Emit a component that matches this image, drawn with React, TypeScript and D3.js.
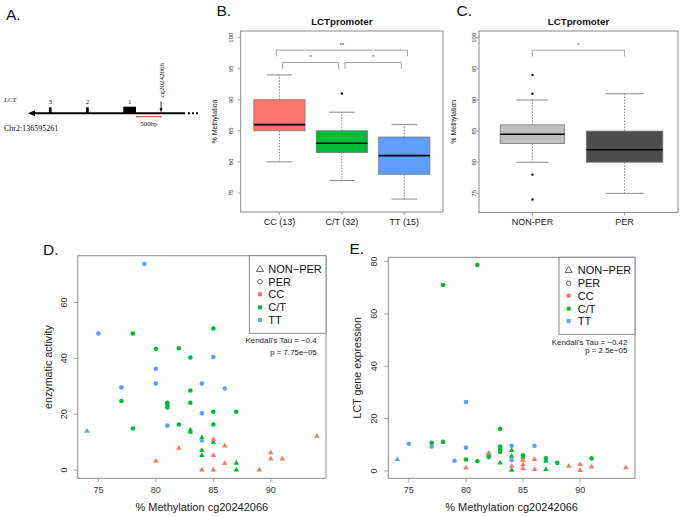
import React from 'react';
import * as d3 from 'd3';

const W = 685, H = 516;
const FONT = "'Liberation Sans', Arial, Helvetica, sans-serif";
const SERIF = "'Liberation Serif', 'Times New Roman', serif";
const RED = '#F8766D', GREEN = '#00BA38', BLUE = '#619CFF';
const BOXLINE = '#8a8a8a';

// ---------- Panel A (gene diagram, bp from Chr2:136595261) ----------
const geneLengthBp = 3230;
const exonLabels = ['3', '2', '1'];
const exonStartBp = [430, 1195, 1961];
const exonEndBp = [485, 1250, 2222];
const cpgBp = 2737;
const scaleBarBp = 500;

// ---------- Panel B ----------
const bCategories = ['CC (13)', 'C/T (32)', 'TT (15)'];
const bColors = [RED, GREEN, BLUE];
const bLow = [80, 77, 74];
const bQ1 = [85, 81.5, 78];
const bMedian = [86, 83, 81];
const bQ3 = [90, 85, 84];
const bHigh = [94, 88, 86];
const bOutliers = [[], [91], []];
const bBoxWidths = [0.82, 0.82, 0.82];
const bBrackets = [
  { from: 0.95, to: 3.05, level: 98, label: '**' },
  { from: 1.05, to: 1.95, level: 96, label: '*' },
  { from: 2.05, to: 2.95, level: 96, label: '*' },
];

// ---------- Panel C ----------
const cCategories = ['NON-PER', 'PER'];
const cColors = ['#BEBEBE', '#4D4D4D'];
const cLow = [80, 75];
const cQ1 = [83, 80];
const cMedian = [84.5, 82];
const cQ3 = [86, 85];
const cHigh = [90, 91];
const cOutliers = [[94, 91, 78, 74], []];
const cBoxWidths = [0.7, 0.83];
const cBrackets = [{ from: 1, to: 2, level: 98, label: '*' }];

const methylTicks = [75, 80, 85, 90, 95, 100];

// ---------- Panel D (enzymatic activity) ----------
const dTTPer = [[79, 73.8], [75, 48.9], [80, 36.3], [80, 31.0], [77, 29.6], [84, 31.0], [85, 40.5], [86, 29.2], [84, 20.3], [81, 15.9]];
const dTTNonPer = [[74, 14.1], [84, 10.7]];
const dCTPer = [[78, 48.9], [85, 50.7], [80, 43.4], [82, 43.6], [83, 40.3], [83, 28.5], [77, 24.7], [81, 24.1], [81, 23.3], [81, 22.4], [83, 24.1], [85, 20.9], [87, 20.9], [82, 16.3], [85, 16.3], [78, 14.9]];
const dCTNonPer = [[83, 14.5], [83, 13.7], [84, 11.7], [85, 10.1], [84, 7.2], [84, 5.4], [87, 2.6], [87, 0.2]];
const dCCNonPer = [[94, 12.3], [85, 11.1], [86, 8.8], [82, 8.0], [85, 5.4], [90, 6.4], [90, 4.1], [91, 4.1], [80, 3.3], [86, 2.5], [84, 0.2], [85, 0.2], [89, 0.2]];
const dYTicks = [0, 20, 40, 60];
const dStats = ["Kendall's Tau = \u22120.4", 'p = 7.75e\u221205'];

// ---------- Panel E (LCT gene expression) ----------
const eTTPer = [[75, 10.4], [77, 9.3], [80, 26.3], [80, 8.9], [79, 3.9], [84, 9.6], [84, 4.2], [86, 9.6]];
const eTTNonPer = [[74, 4.6]];
const eCTPer = [[81, 78.7], [78, 71.0], [83, 16.0], [77, 10.8], [78, 11.1], [83, 9.3], [83, 8.3], [83, 7.3], [82, 6.1], [82, 5.3], [80, 4.4], [81, 3.7], [85, 6.0], [85, 5.1], [87, 4.8], [88, 3.1], [91, 4.8]];
const eCTNonPer = [[83, 3.2], [84, 8.0], [84, 5.8], [84, 0.5], [87, 3.9], [87, 0.7]];
const eCCNonPer = [[80, 1.3], [82, 7.0], [84, 2.0], [85, 4.3], [85, 2.6], [85, 1.0], [86, 4.6], [86, 0.7], [89, 2.0], [90, 2.7], [90, 0.4], [91, 1.7], [94, 1.4]];
const eYTicks = [0, 20, 40, 60, 80];
const eStats = ["Kendall's Tau = \u22120.42", 'p = 2.5e\u221205'];

const xTicksMeth = [75, 80, 85, 90];
const legendLabels = ['NON\u2212PER', 'PER', 'CC', 'C/T', 'TT'];
const legendColors = ['', '', RED, GREEN, BLUE];

const triPath = d3.symbol().type(d3.symbolTriangle).size(13)() as string;
const triOpen = d3.symbol().type(d3.symbolTriangle).size(22)() as string;

function PanelA() {
  const x = d3.scaleLinear().domain([0, geneLengthBp]).range([28, 185]);
  const yl = 113.3;
  return (
    <g fontFamily={SERIF}>
      <text x={6} y={20} fontSize={15.5} fontFamily={FONT} fill="#111">A.</text>
      <text x={4} y={101.5} fontSize={7} fontStyle="italic" fill="#111">LCT</text>
      <line x1={x(0) + 5} x2={x(geneLengthBp)} y1={yl} y2={yl} stroke="#000" strokeWidth={2} />
      <path d={`M${x(0)},${yl} l7,-3 l0,6 z`} fill="#000" />
      <line x1={x(geneLengthBp) + 3} x2={x(geneLengthBp) + 13} y1={yl} y2={yl} stroke="#000" strokeWidth={2} strokeDasharray="2,2" />
      {exonLabels.map((lab, i) => (
        <g key={lab}>
          <rect x={x(exonStartBp[i])} width={x(exonEndBp[i]) - x(exonStartBp[i])} y={i === 2 ? 106.7 : 107.3} height={i === 2 ? 6.6 : 6} fill="#000" />
          <text x={(x(exonStartBp[i]) + x(exonEndBp[i])) / 2} y={104} fontSize={7} textAnchor="middle" fill="#111">{lab}</text>
        </g>
      ))}
      <line x1={x(cpgBp)} x2={x(cpgBp)} y1={101.5} y2={109} stroke="#000" strokeWidth={0.8} />
      <path d={`M${x(cpgBp)},${112.2} l-1.6,-4 l3.2,0 z`} fill="#000" />
      <text transform={`translate(${x(cpgBp) + 2.5},${97.5}) rotate(-90)`} fontSize={7} fill="#111">cg20242066</text>
      <line x1={x(cpgBp - scaleBarBp)} x2={x(cpgBp)} y1={116.7} y2={116.7} stroke="#d12a2a" strokeWidth={0.9} />
      <line x1={x(cpgBp - scaleBarBp)} x2={x(cpgBp - scaleBarBp)} y1={115.7} y2={117.7} stroke="#d12a2a" strokeWidth={0.8} />
      <line x1={x(cpgBp)} x2={x(cpgBp)} y1={115.7} y2={117.7} stroke="#d12a2a" strokeWidth={0.8} />
      <text x={x(cpgBp - scaleBarBp / 2)} y={125.5} fontSize={6.7} textAnchor="middle" fill="#111">500bp</text>
      <text x={4} y={130.5} fontSize={8} fill="#111">Chr2:136595261</text>
    </g>
  );
}

type BoxProps = {
  letter: string; letterX: number; left: number; right: number; top: number; bottom: number;
  categories: string[]; colors: string[]; low: number[]; q1: number[]; med: number[]; q3: number[]; high: number[];
  outliers: number[][]; widths: number[]; brackets: { from: number; to: number; level: number; label: string }[];
  yLabelX: number; tickLabelX: number;
};

function BoxPanel(p: BoxProps) {
  const n = p.categories.length;
  const ext = n * 0.04;
  const x = d3.scaleLinear().domain([0.5 - ext, n + 0.5 + ext]).range([p.left, p.right]);
  const y = d3.scaleLinear().domain([71.92, 101.08]).range([p.bottom, p.top]);
  const unit = x(1) - x(0);
  const midX = (p.left + p.right) / 2;
  return (
    <g fontFamily={FONT}>
      <text x={p.letterX} y={15.7} fontSize={15.5} fill="#111">{p.letter}</text>
      <text x={midX} y={24.5} fontSize={9.7} fontWeight="bold" textAnchor="middle" fill="#111">LCTpromoter</text>
      <rect x={p.left} y={p.top} width={p.right - p.left} height={p.bottom - p.top} fill="none" stroke={BOXLINE} strokeWidth={1} />
      {methylTicks.map(t => (
        <g key={t}>
          <line x1={p.left - 3} x2={p.left} y1={y(t)} y2={y(t)} stroke={BOXLINE} strokeWidth={0.8} />
          <text transform={`translate(${p.tickLabelX},${y(t)}) rotate(-90)`} fontSize={6} textAnchor="middle" fill="#333">{t}</text>
        </g>
      ))}
      <text transform={`translate(${p.yLabelX},${(p.top + p.bottom) / 2}) rotate(-90)`} fontSize={7} textAnchor="middle" fill="#222">% Methylation</text>
      {p.categories.map((c, i) => {
        const cx = x(i + 1);
        const hw = (p.widths[i] * unit) / 2;
        return (
          <g key={c}>
            <line x1={cx} x2={cx} y1={p.bottom} y2={p.bottom + 3} stroke={BOXLINE} strokeWidth={0.8} />
            <text x={cx} y={225} fontSize={9} textAnchor="middle" fill="#222">{c}</text>
            <line x1={cx} x2={cx} y1={y(p.q3[i])} y2={y(p.high[i])} stroke="#666" strokeWidth={0.8} strokeDasharray="1.5,1.5" />
            <line x1={cx} x2={cx} y1={y(p.q1[i])} y2={y(p.low[i])} stroke="#666" strokeWidth={0.8} strokeDasharray="1.5,1.5" />
            <line x1={cx - hw / 2} x2={cx + hw / 2} y1={y(p.high[i])} y2={y(p.high[i])} stroke="#888" strokeWidth={1} />
            <line x1={cx - hw / 2} x2={cx + hw / 2} y1={y(p.low[i])} y2={y(p.low[i])} stroke="#888" strokeWidth={1} />
            <rect x={cx - hw} width={2 * hw} y={y(p.q3[i])} height={y(p.q1[i]) - y(p.q3[i])} fill={p.colors[i]} stroke="#777" strokeWidth={0.8} />
            <line x1={cx - hw} x2={cx + hw} y1={y(p.med[i])} y2={y(p.med[i])} stroke="#000" strokeWidth={1.6} />
            {p.outliers[i].map((o, j) => (
              <circle key={j} cx={cx} cy={y(o)} r={1.2} fill="#111" />
            ))}
          </g>
        );
      })}
      {p.brackets.map((b, i) => (
        <g key={i}>
          <path d={`M${x(b.from)},${y(b.level - 1)} V${y(b.level)} H${x(b.to)} V${y(b.level - 1)}`} fill="none" stroke="#999" strokeWidth={0.9} />
          <text x={(x(b.from) + x(b.to)) / 2} y={y(b.level + 1.1) + 3.5} fontSize={6} textAnchor="middle" fill="#333">{b.label}</text>
        </g>
      ))}
    </g>
  );
}

type ScatterProps = {
  letter: string; letterX: number; letterY: number; left: number; right: number; top: number; bottom: number;
  yDomain: [number, number]; yTicks: number[]; yLabel: string; yLabelX: number; tickLabelX: number;
  ccTri: number[][]; ctTri: number[][]; ttTri: number[][]; ctCirc: number[][]; ttCirc: number[][];
  legend: { left: number; bottom: number; symX: number; textX: number; rows: number[] };
  stats: string[]; statsX: number; statsY: number[];
};

function ScatterPanel(p: ScatterProps) {
  const x = d3.scaleLinear().domain([73.2, 94.8]).range([p.left, p.right]);
  const y = d3.scaleLinear().domain(p.yDomain).range([p.bottom, p.top]);
  const tri = (pts: number[][], col: string, k: string) =>
    pts.map((d, i) => <path key={k + i} d={triPath} transform={`translate(${x(d[0])},${y(d[1]) + 0.4})`} fill={col} />);
  const circ = (pts: number[][], col: string, k: string) =>
    pts.map((d, i) => <circle key={k + i} cx={x(d[0])} cy={y(d[1])} r={2.3} fill={col} />);
  return (
    <g fontFamily={FONT}>
      <text x={p.letterX} y={p.letterY} fontSize={15.5} fill="#111">{p.letter}</text>
      <rect x={p.left} y={p.top} width={p.right - p.left} height={p.bottom - p.top} fill="none" stroke={BOXLINE} strokeWidth={1} />
      {xTicksMeth.map(t => (
        <g key={t}>
          <line x1={x(t)} x2={x(t)} y1={p.bottom} y2={p.bottom + 4} stroke={BOXLINE} strokeWidth={0.8} />
          <text x={x(t)} y={p.bottom + 15} fontSize={9} textAnchor="middle" fill="#333">{t}</text>
        </g>
      ))}
      {p.yTicks.map(t => (
        <g key={t}>
          <line x1={p.left - 4} x2={p.left} y1={y(t)} y2={y(t)} stroke={BOXLINE} strokeWidth={0.8} />
          <text transform={`translate(${p.tickLabelX},${y(t)}) rotate(-90)`} fontSize={9} textAnchor="middle" fill="#333">{t}</text>
        </g>
      ))}
      <text x={(p.left + p.right) / 2} y={511} fontSize={11} textAnchor="middle" fill="#222">% Methylation cg20242066</text>
      <text transform={`translate(${p.yLabelX},${(p.top + p.bottom) / 2}) rotate(-90)`} fontSize={10.7} textAnchor="middle" fill="#222">{p.yLabel}</text>
      {circ(p.ttCirc, BLUE, 'tc')}
      {circ(p.ctCirc, GREEN, 'gc')}
      {tri(p.ttTri, BLUE, 'tt')}
      {tri(p.ctTri, GREEN, 'gt')}
      {tri(p.ccTri, RED, 'rt')}
      <rect x={p.legend.left} y={p.top} width={p.right - p.legend.left} height={p.legend.bottom - p.top} fill="#fff" stroke={BOXLINE} strokeWidth={1} />
      {legendLabels.map((lab, i) => {
        const cy = p.legend.rows[i];
        let sym;
        if (i === 0) sym = <path d={triOpen} transform={`translate(${p.legend.symX},${cy + 0.5})`} fill="none" stroke="#444" strokeWidth={0.8} />;
        else if (i === 1) sym = <circle cx={p.legend.symX} cy={cy} r={2.3} fill="none" stroke="#444" strokeWidth={0.8} />;
        else sym = <rect x={p.legend.symX - 2} y={cy - 2} width={4} height={4} fill={legendColors[i]} />;
        return (
          <g key={lab}>
            {sym}
            <text x={p.legend.textX} y={cy + 4} fontSize={11} fill="#111">{lab}</text>
          </g>
        );
      })}
      {p.stats.map((s, i) => (
        <text key={i} x={p.statsX} y={p.statsY[i]} fontSize={7.9} textAnchor="end" fill="#222">{s}</text>
      ))}
    </g>
  );
}

export default function App() {
  return (
    <svg width={W} height={H} style={{ position: 'absolute', left: 0, top: 0, background: '#fff' }}>
      <rect x={0} y={0} width={W} height={H} fill="#fff" />
      <PanelA />
      <BoxPanel letter="B." letterX={216.5} left={240.7} right={443} top={31} bottom={212}
        categories={bCategories} colors={bColors} low={bLow} q1={bQ1} med={bMedian} q3={bQ3} high={bHigh}
        outliers={bOutliers} widths={bBoxWidths} brackets={bBrackets} yLabelX={216.5} tickLabelX={233} />
      <BoxPanel letter="C." letterX={456.5} left={479} right={678} top={31} bottom={212.5}
        categories={cCategories} colors={cColors} low={cLow} q1={cQ1} med={cMedian} q3={cQ3} high={cHigh}
        outliers={cOutliers} widths={cBoxWidths} brackets={cBrackets} yLabelX={456} tickLabelX={475.5} />
      <ScatterPanel letter="D." letterX={43} letterY={255} left={77.7} right={326} top={255.7} bottom={478.3}
        yDomain={[-2.95, 76.75]} yTicks={dYTicks} yLabel="enzymatic activity" yLabelX={52} tickLabelX={66.5}
        ccTri={dCCNonPer} ctTri={dCTNonPer} ttTri={dTTNonPer} ctCirc={dCTPer} ttCirc={dTTPer}
        legend={{ left: 249.3, bottom: 333.3, symX: 260, textX: 268.3, rows: [269, 281.7, 294.3, 307.3, 320] }}
        stats={dStats} statsX={316.7} statsY={[343, 354.7]} />
      <ScatterPanel letter="E." letterX={349.5} letterY={254} left={388.3} right={635} top={257.3} bottom={478.3}
        yDomain={[-2.8, 81.6]} yTicks={eYTicks} yLabel="LCT gene expression" yLabelX={360.5} tickLabelX={376.5}
        ccTri={eCCNonPer} ctTri={eCTNonPer} ttTri={eTTNonPer} ctCirc={eCTPer} ttCirc={eTTPer}
        legend={{ left: 559, bottom: 334.3, symX: 568.7, textX: 577.7, rows: [270, 283.3, 295.7, 308.7, 321] }}
        stats={eStats} statsX={627.3} statsY={[345, 353]} />
    </svg>
  );
}
